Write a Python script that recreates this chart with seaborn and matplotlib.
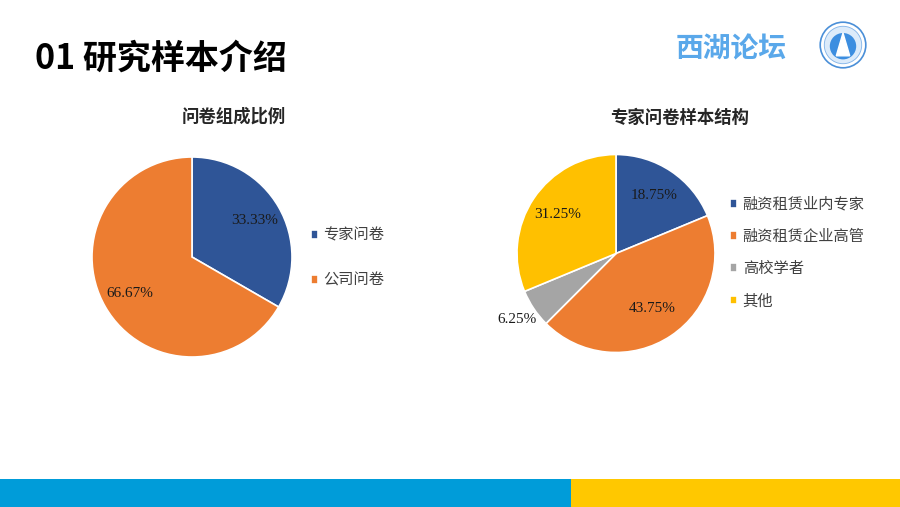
import numpy as np
import pandas as pd
import matplotlib.pyplot as plt
import seaborn as sns
from matplotlib.patches import Rectangle, Circle

# data
survey_labels = ["专家问卷", "公司问卷"]
survey_share = [33.33, 66.67]

expert_labels = ["融资租赁业内专家", "融资租赁企业高管", "高校学者", "其他"]
expert_share = [18.75, 43.75, 6.25, 31.25]

survey_colors = ["#2F5597", "#ED7D31"]
expert_colors = ["#2F5597", "#ED7D31", "#A5A5A5", "#FFC000"]

sns.set_theme(style="white")
plt.rcParams['font.family'] = ['Noto Sans CJK SC', 'DejaVu Sans']

W, H = 900, 507
fig = plt.figure(figsize=(W / 100, H / 100), dpi=100)


def px_axes(cx, cy, r):
    # axes placed by pixel centre / radius of the pie
    return fig.add_axes([(cx - r) / W, (H - cy - r) / H, 2 * r / W, 2 * r / H])


def draw_pie(ax, values, colors, pctdist=0.7):
    wedges, _, autotexts = ax.pie(
        values, colors=colors, startangle=90, counterclock=False,
        autopct=lambda p: f"{p:.2f}%", pctdistance=pctdist,
        wedgeprops=dict(edgecolor="white", linewidth=1.2),
        textprops=dict(family="Liberation Serif", fontsize=11, color="#1a1a1a"))
    ax.set_xlim(-1, 1)
    ax.set_ylim(-1, 1)
    ax.set_aspect("equal")
    ax.axis("off")
    return wedges, autotexts


def scale_label(t, k):
    x, y = t.get_position()
    t.set_position((x * k, y * k))


# left pie
ax1 = px_axes(192, 257, 100)
w1, t1 = draw_pie(ax1, survey_share, survey_colors, 0.72)
fig.text(234 / W, 1 - 117 / H, "问卷组成比例", ha="center", va="center",
         fontsize=12.5, fontweight="bold", color="#262626")
fig.legend(w1, survey_labels, loc="upper left",
           bbox_to_anchor=(303 / W, 1 - 219 / H), frameon=False,
           fontsize=11, handlelength=0.5, handleheight=0.5,
           handletextpad=0.35, labelspacing=1.85, borderpad=0,
           labelcolor="#404040")

# right pie
ax2 = px_axes(616, 253.5, 99)
w2, t2 = draw_pie(ax2, expert_share, expert_colors, 0.7)
# Excel "best fit" style placement; grey slice label sits outside
scale_label(t2[1], 0.95)
scale_label(t2[2], 1.72)
scale_label(t2[3], 1.01)
fig.text(680 / W, 1 - 118 / H, "专家问卷样本结构", ha="center", va="center",
         fontsize=12.5, fontweight="bold", color="#262626")
fig.legend(w2, expert_labels, loc="upper left",
           bbox_to_anchor=(722 / W, 1 - 188 / H), frameon=False,
           fontsize=11, handlelength=0.5, handleheight=0.5,
           handletextpad=0.35, labelspacing=1.0, borderpad=0,
           labelcolor="#404040")

# slide title and header
fig.text(35 / W, 1 - 58 / H, "01 研究样本介绍", ha="left", va="center",
         fontsize=24.5, fontweight="bold", color="black")
fig.text(731 / W, 1 - 49 / H, "西湖论坛", ha="center", va="center",
         fontsize=20, fontweight="heavy", fontstyle="italic", color="#5AA8EA")

logo = fig.add_axes([(843 - 24) / W, (H - 45 - 24) / H, 48 / W, 48 / H])
logo.set_xlim(-1, 1)
logo.set_ylim(-1, 1)
logo.set_aspect("equal")
logo.axis("off")
logo.add_patch(Circle((0, 0), 0.95, facecolor="white", edgecolor="#4A8FD8", linewidth=1.2))
logo.add_patch(Circle((0, 0), 0.78, facecolor="#DCEBFA", edgecolor="#7FB2E8", linewidth=0.6))
logo.add_patch(Circle((0, -0.05), 0.55, facecolor="#3C8EE0", edgecolor="none"))
logo.fill([0, -0.28, 0.28], [0.5, -0.45, -0.45], color="white")

# bottom colour bars
fig.patches.append(Rectangle((0, 0), 571 / W, 28 / H, transform=fig.transFigure,
                             facecolor="#009CD9", edgecolor="none"))
fig.patches.append(Rectangle((571 / W, 0), 1 - 571 / W, 28 / H, transform=fig.transFigure,
                             facecolor="#FFC800", edgecolor="none"))

fig.savefig("out.png", dpi=100, facecolor="white")
